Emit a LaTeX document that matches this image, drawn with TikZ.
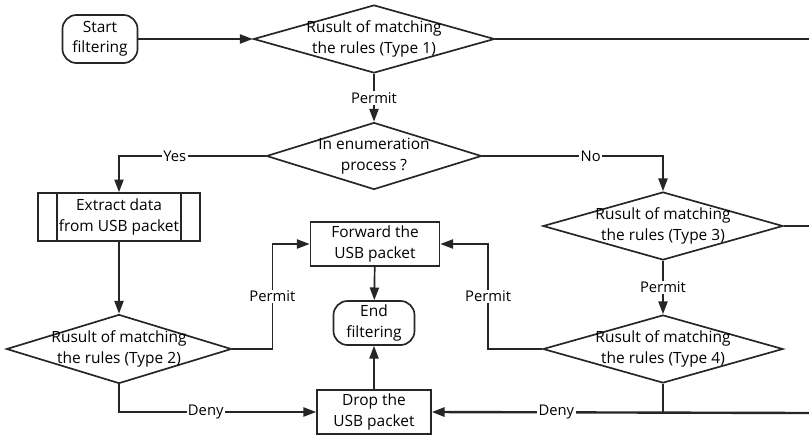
\documentclass[tikz,border=0pt]{standalone}
\usepackage{fontspec}
\setmainfont{Open Sans}
\usepackage{tikz}
\usetikzlibrary{arrows.meta,calc,positioning,shapes.geometric}
\tikzset{
  fbase/.style={
    draw=black!85,
    line width=1.2pt,
    align=center,
    inner sep=0pt,
    font=\fontsize{11}{14.5}\selectfont
  },
  terminal/.style={
    fbase,
    rectangle,
    rounded corners=10pt
  },
  process/.style={
    fbase,
    rectangle
  },
  decision/.style={
    fbase,
    diamond
  },
  dtext/.style={
    align=center,
    inner sep=0pt,
    font=\fontsize{11}{14.5}\selectfont
  },
  connection/.style={
    line width=1.2pt,
    draw=black!85,
    -{Triangle[length=9pt,width=6.5pt]}
  },
  plain/.style={
    line width=1.2pt,
    draw=black!85
  },
  flabel/.style={
    fill=white,
    inner sep=1pt,
    font=\fontsize{10.5}{12}\selectfont
  }
}

\begin{document}
\begin{tikzpicture}[x=0.025cm, y=-0.025cm]
  % Same proportions as the printed page
  \useasboundingbox (0,0) rectangle (809,436);
  %\draw[help lines, step=40] (0,0) grid (809,436);

  % Start and the first rule check
  \node[terminal, minimum width=1.875cm, minimum height=1.2cm] (S) at (100,39) {Start\\filtering};
  \node[decision, minimum width=6.025cm, minimum height=1.7cm] (R1) at (374,39) {};
  \node[dtext] at (R1) {Rusult of matching\\the rules (Type 1)};

  % Enumeration test
  \node[decision, minimum width=5.375cm, minimum height=1.675cm] (E) at (374,156) {};
  \node[dtext] at (E) {In enumeration\\process ?};

  % Left branch
  \node[process, minimum width=4.05cm, minimum height=1.2cm] (X) at (119,217) {Extract data\\from USB packet};
  \draw[plain] ([xshift=0.5cm]X.north west) -- ([xshift=0.5cm]X.south west);
  \draw[plain] ([xshift=-0.5cm]X.north east) -- ([xshift=-0.5cm]X.south east);
  \node[decision, minimum width=5.625cm, minimum height=1.725cm] (R2) at (119,349) {};
  \node[dtext] at (R2) {Rusult of matching\\the rules (Type 2)};

  % Middle column
  \node[process, minimum width=3.225cm, minimum height=1.1cm] (F) at (375,244) {Forward the\\USB packet};
  \node[terminal, minimum width=2.025cm, minimum height=1.1cm] (T) at (374,323) {End\\filtering};
  \node[process, minimum width=2.85cm, minimum height=1.1cm] (D) at (374,412) {Drop the\\USB packet};

  % Right branch
  \node[decision, minimum width=6cm, minimum height=1.7cm] (R3) at (663,226) {};
  \node[dtext] at (R3) {Rusult of matching\\the rules (Type 3)};
  \node[decision, minimum width=6cm, minimum height=1.7cm] (R4) at (663,349) {};
  \node[dtext] at (R4) {Rusult of matching\\the rules (Type 4)};

  % Loose ends running off to the right
  \coordinate (o1) at (809,39);
  \coordinate (o3) at (809,226);
  \coordinate (o4) at (809,413);

  % Connectors
  \draw[connection] (S) -- (R1);
  \draw[plain] (R1.east) -- (o1);
  \draw[connection] (R1) -- node[flabel] {Permit} (E);
  \draw[connection] (E.west) -| node[flabel, pos=0.31] {Yes} (X.north);
  \draw[connection] (E.east) -| node[flabel, pos=0.3] {No} (R3.north);
  \draw[connection] (X) -- (R2);
  \draw[connection] (R2.east) -- ++(40,0) |- node[flabel, pos=0.25] {Permit} (F.west);
  \draw[connection] (R2.south) |- node[flabel, pos=0.72] {Deny} (D.west);
  \draw[connection] (F) -- (T);
  \draw[connection] (D) -- (T);
  \draw[plain] (R3.east) -- (o3);
  \draw[connection] (R3) -- node[flabel] {Permit} (R4);
  \draw[connection] (R4.west) -- ++(-54,0) |- node[flabel, pos=0.25] {Permit} (F.east);
  \draw[plain] (R4.south) -- (R4.south |- o4);
  \draw[connection, line width=1.7pt] (o4) -- node[flabel, pos=0.67] {Deny} (D.east);
\end{tikzpicture}
\end{document}
